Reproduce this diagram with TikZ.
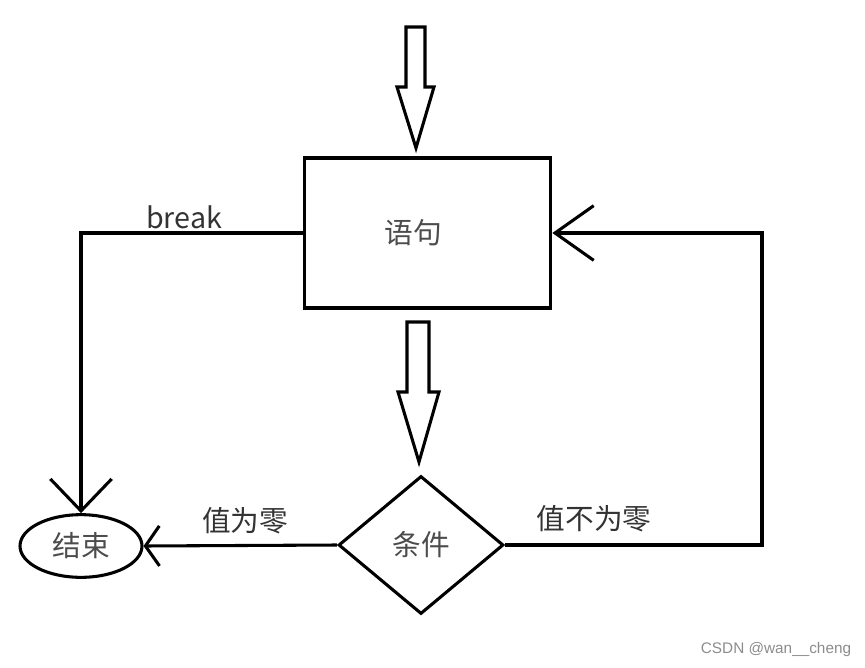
\documentclass[tikz,border=0pt]{standalone}
\usepackage{fontspec}
\setmainfont{Noto Sans CJK SC}
\newfontfamily\wmfont{Liberation Sans}
\usetikzlibrary{arrows.meta,shapes.geometric}
\tikzset{
  barb/.style 2 args={-{Straight Barb[length=#1,width=#2]}},
  box/.style={draw, inner sep=0pt, text=black!70},
  lbl/.style={text=black!80},
}
\begin{document}
\begin{tikzpicture}[x=0.75pt,y=-0.75pt,line width=2.3pt,every node/.style={font=\fontsize{21.5}{25}\selectfont}]
        \useasboundingbox (0,0) rectangle (865,668);
        % blocks
        \node[box, rectangle, minimum width=185pt, minimum height=112.5pt] (stmt) at (427.5,233) {语句\kern21pt};
        \node[box, diamond, minimum width=123.75pt, minimum height=103.5pt] (cond) at (421,545) {条件};
        \node[box, ellipse, minimum width=91.5pt, minimum height=47pt] (end) at (81,546) {结束};
        \coordinate (turn) at (762,545);
        % labels
        \node[lbl] (brk) at (184,217) {break};
        \node[lbl] (zero) at (245,521) {值为零};
        \node[lbl] (nonzero) at (594,519) {值不为零};
        \node[text=black!45, font=\wmfont\fontsize{11.5}{13}\selectfont] (mark) at (776,650) {CSDN @wan\_\_cheng};
        % hollow arrows
        \draw[line join=miter] (406,27) -- (425,27) -- (425,87) -- (434,87) -- (416,148) -- (397,87) -- (406,87) -- cycle;
        \draw[line join=miter] (407,322) -- (429,322) -- (429,392) -- (439,392) -- (419,462) -- (398,392) -- (407,392) -- cycle;
        % connectors
        \draw[barb={24pt}{46pt}] (stmt.west) -| (end.north);
        \draw[barb={10.5pt}{30pt}] (cond.west) -- (end.east);
        \draw[barb={29pt}{41pt}] (cond.east) -- (turn) |- (stmt.east);
    \end{tikzpicture}
\end{document}
